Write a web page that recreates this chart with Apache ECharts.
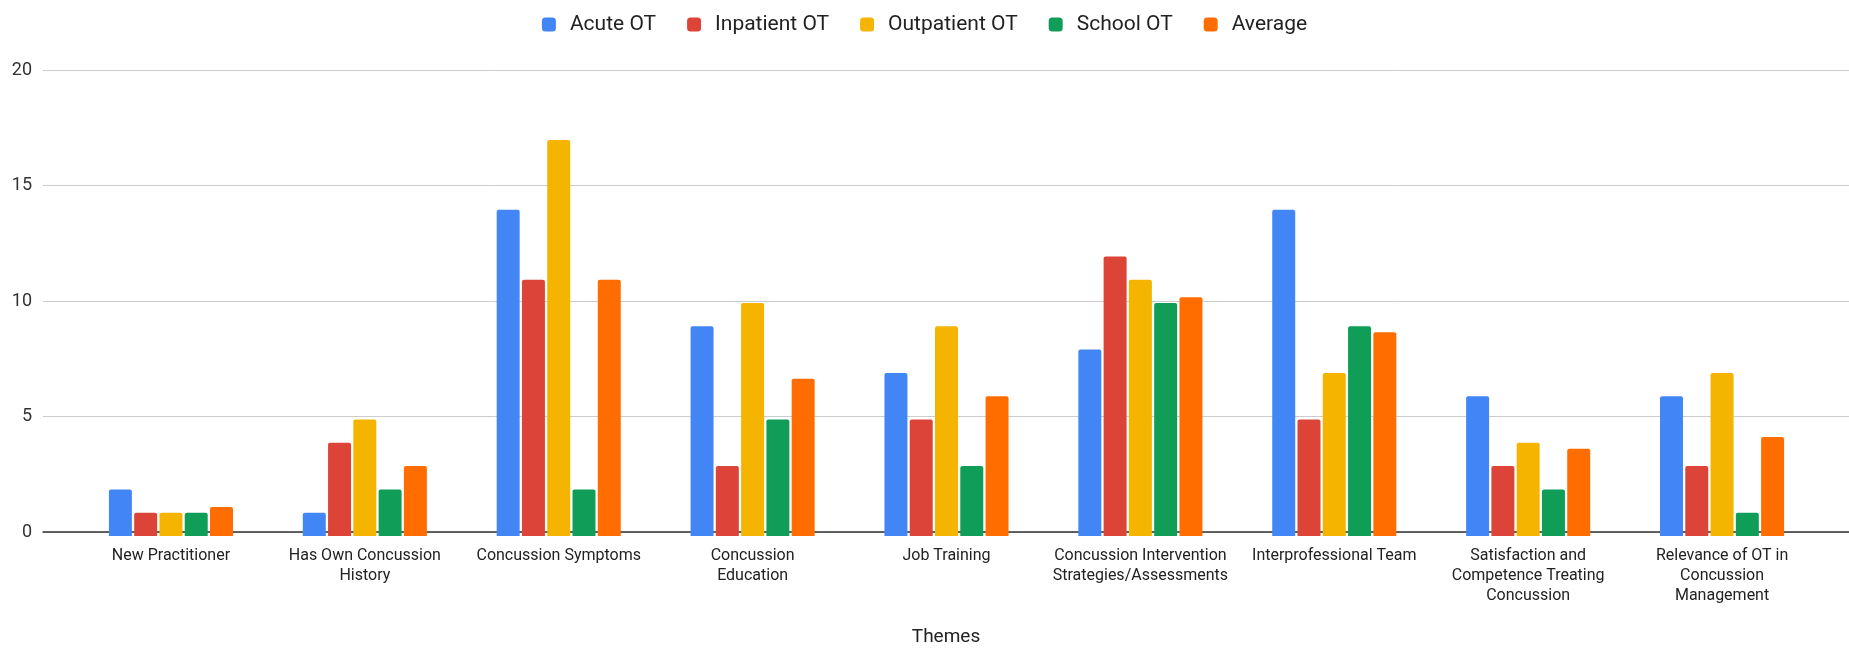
<!DOCTYPE html>
<html>
<head>
<meta charset="utf-8">
<script src="https://cdn.jsdelivr.net/npm/echarts@6/dist/echarts.min.js"></script>
<style>html,body{margin:0;padding:0;background:#fff;}#c{width:1849px;height:652px;}</style>
</head>
<body>
<div id="c"></div>
<script>
const categories = [
  "New Practitioner",
  "Has Own Concussion\nHistory",
  "Concussion Symptoms",
  "Concussion\nEducation",
  "Job Training",
  "Concussion Intervention\nStrategies/Assessments",
  "Interprofessional Team",
  "Satisfaction and\nCompetence Treating\nConcussion",
  "Relevance of OT in\nConcussion\nManagement"
];
const acuteOT      = [2, 1, 14, 9, 7, 8, 14, 6, 6];
const inpatientOT  = [1, 4, 11, 3, 5, 12, 5, 3, 3];
const outpatientOT = [1, 5, 17, 10, 9, 11, 7, 4, 7];
const schoolOT     = [1, 2, 2, 5, 3, 10, 9, 2, 1];
const average      = [1.25, 3, 11, 6.75, 6, 10.25, 8.75, 3.75, 4.25];
const yTicks = { min: 0, max: 20, interval: 5 };

const seriesDefs = [
  ["Acute OT", acuteOT, "#4285F4"],
  ["Inpatient OT", inpatientOT, "#DB4437"],
  ["Outpatient OT", outpatientOT, "#F4B400"],
  ["School OT", schoolOT, "#0F9D58"],
  ["Average", average, "#FF6D01"]
];

const chart = echarts.init(document.getElementById('c'), null, {renderer: 'canvas'});
const font = 'Roboto, "Liberation Sans", sans-serif';
chart.setOption({
  animation: false,
  backgroundColor: '#ffffff',
  textStyle: { fontFamily: font },
  legend: {
    top: 9,
    left: 'center',
    itemWidth: 14,
    itemHeight: 14,
    itemGap: 31,
    icon: 'roundRect',
    textStyle: { fontSize: 21, color: '#222', fontFamily: font, padding: [0, 0, 0, 9] },
    data: seriesDefs.map(d => d[0])
  },
  grid: [
    { left: 74, right: 30, top: 70, bottom: 116 },
    { left: 43, right: 0, top: 70, bottom: 116 }
  ],
  xAxis: [
    {
      gridIndex: 0, type: 'category', data: categories,
      axisLine: { show: false }, axisTick: { show: false },
      axisLabel: { interval: 0, color: '#222', fontSize: 16, lineHeight: 20, margin: 10, fontFamily: font }
    },
    {
      gridIndex: 1, type: 'category', data: [''],
      axisLine: { show: true, lineStyle: { color: '#333', width: 1.5 } },
      axisTick: { show: false }, axisLabel: { show: false },
      name: 'Themes', nameLocation: 'middle', nameGap: 96,
      nameTextStyle: { fontSize: 19, color: '#222', fontFamily: font }
    }
  ],
  yAxis: [
    { gridIndex: 0, type: 'value', min: yTicks.min, max: yTicks.max, interval: yTicks.interval, show: false },
    {
      gridIndex: 1, type: 'value', min: yTicks.min, max: yTicks.max, interval: yTicks.interval,
      axisLine: { show: false }, axisTick: { show: false },
      splitLine: { lineStyle: { color: '#cccccc', width: 1 } },
      axisLabel: { color: '#333', fontSize: 18, margin: 11, fontFamily: font }
    }
  ],
  series: seriesDefs.map(d => ({
    name: d[0], type: 'bar', xAxisIndex: 0, yAxisIndex: 0,
    data: d[1],
    itemStyle: { color: d[2], borderRadius: [2, 2, 0, 0] },
    barCategoryGap: '36%', barGap: '10%'
  }))
});
</script>
</body>
</html>
